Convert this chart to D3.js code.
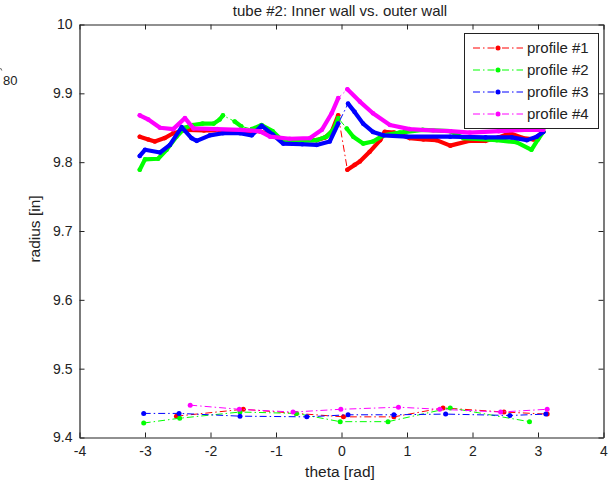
<!DOCTYPE html>
<html>
<head>
<meta charset="utf-8">
<script src="https://cdn.jsdelivr.net/npm/d3@7"></script>
<style>
  html, body { margin: 0; padding: 0; background: #fff; }
  svg { display: block; }
  text { font-family: "Liberation Sans", Arial, sans-serif; fill: #222; }
</style>
</head>
<body>
<svg id="chart" width="609" height="486"></svg>
<script>
// Profile names and colours
const profiles = ["profile #1", "profile #2", "profile #3", "profile #4"];
const colors = ["#ff0000", "#00ff00", "#0000ff", "#ff00ff"];

// Outer wall (densely sampled); null marks a stretch with no dense samples
const outerTheta1 = [-3.08,-2.95,-2.85,-2.7,-2.57,-2.36,-2.1,-1.8,-1.5,-1.25,-1.1,-0.89,-0.6,-0.38,-0.25,-0.15,-0.05,null,0.09,0.2,0.28,0.43,0.59,0.66,0.8,1.04,1.25,1.45,1.66,1.96,2.2,2.4,2.57,2.77,2.93,3.08];
const outerR1 = [9.837,9.833,9.830,9.835,9.842,9.847,9.846,9.846,9.845,9.845,9.840,9.833,9.832,9.832,9.836,9.844,9.868,null,9.789,9.796,9.801,9.815,9.832,9.844,9.843,9.835,9.833,9.832,9.824,9.831,9.831,9.836,9.842,9.835,9.833,9.844];

const outerTheta2 = [-3.08,-3.0,-2.8,-2.67,-2.52,-2.39,-2.27,-2.12,-1.95,-1.86,-1.81,null,-1.63,-1.53,null,-1.37,-1.22,-1.05,-0.89,-0.6,-0.38,-0.23,-0.12,-0.05,null,0.08,0.18,0.33,0.48,0.64,0.89,1.24,1.66,1.86,2.37,2.67,2.9,3.0,3.08];
const outerR2 = [9.789,9.804,9.805,9.818,9.837,9.850,9.854,9.856,9.856,9.862,9.868,null,9.859,9.852,null,9.848,9.854,9.845,9.830,9.831,9.832,9.837,9.848,9.864,null,9.849,9.837,9.827,9.830,9.839,9.843,9.847,9.845,9.835,9.832,9.829,9.818,9.833,9.844];

const outerTheta3 = [-3.08,-3.0,-2.77,-2.62,-2.44,-2.29,-2.21,-2.01,-1.81,-1.55,-1.37,-1.22,-1.05,-0.89,-0.6,-0.38,-0.18,-0.05,null,0.10,0.2,0.33,0.48,0.64,1.0,1.66,2.2,2.6,2.83,2.98,3.08];
const outerR3 = [9.809,9.818,9.814,9.825,9.851,9.835,9.831,9.839,9.842,9.842,9.839,9.853,9.840,9.827,9.826,9.825,9.830,9.856,null,9.885,9.873,9.856,9.844,9.839,9.837,9.837,9.836,9.836,9.832,9.837,9.844];

const outerTheta4 = [-3.08,-2.95,-2.77,-2.57,-2.39,-2.26,-1.9,-1.55,-1.25,-1.09,-0.79,-0.48,-0.30,-0.15,-0.05,null,0.09,0.28,0.48,0.74,1.04,1.4,1.66,1.96,2.4,2.8,3.08];
const outerR4 = [9.868,9.862,9.850,9.848,9.864,9.849,9.848,9.847,9.845,9.837,9.834,9.835,9.847,9.871,9.893,null,9.906,9.888,9.871,9.854,9.848,9.846,9.845,9.843,9.845,9.847,9.847];

// Inner wall (sparse samples)
const innerTheta1 = [-2.52,-1.50,-0.69,0.03,0.80,1.55,2.48,3.14];
const innerR1 = [9.431,9.441,9.435,9.430,9.430,9.443,9.437,9.434];

const innerTheta2 = [-3.02,-2.47,-1.55,-0.69,-0.02,0.71,1.66,2.87];
const innerR2 = [9.421,9.428,9.437,9.435,9.423,9.423,9.443,9.423];

const innerTheta3 = [-3.02,-2.48,-1.55,-0.53,0.10,0.80,1.59,2.57,3.12];
const innerR3 = [9.435,9.435,9.431,9.430,9.433,9.433,9.434,9.432,9.434];

const innerTheta4 = [-2.31,-1.56,-0.74,-0.01,0.87,1.50,2.43,3.14];
const innerR4 = [9.447,9.441,9.437,9.441,9.444,9.441,9.437,9.441];

// Axis ticks
const xTicks = [-4,-3,-2,-1,0,1,2,3,4];
const yTicks = [9.4,9.5,9.6,9.7,9.8,9.9,10];

const outerTheta = [outerTheta1, outerTheta2, outerTheta3, outerTheta4];
const outerR = [outerR1, outerR2, outerR3, outerR4];
const innerTheta = [innerTheta1, innerTheta2, innerTheta3, innerTheta4];
const innerR = [innerR1, innerR2, innerR3, innerR4];

const svg = d3.select("#chart");
const plotLeft = 79.5, plotRight = 603.5, plotTop = 24.5, plotBottom = 437.5;

const x = d3.scaleLinear().domain([-4, 4]).range([plotLeft, plotRight]);
const y = d3.scaleLinear().domain([9.4, 10]).range([plotBottom, plotTop]);

const dashDot = "7,3,1.5,3";

const zip = (ts, rs) => ts.map((t, i) => ({ t, r: rs[i] }));

const lineDefined = d3.line()
  .defined(d => d.t !== null && d.r !== null)
  .x(d => x(d.t)).y(d => y(d.r));
const lineAll = d3.line().x(d => x(d.t)).y(d => y(d.r));

const plot = svg.append("g");

profiles.forEach((name, i) => {
  const col = colors[i];
  const pts = zip(outerTheta[i], outerR[i]);
  const valid = pts.filter(d => d.t !== null && d.r !== null);

  // thin dash-dot connection through every sample
  plot.append("path")
    .attr("d", lineAll(valid))
    .attr("fill", "none").attr("stroke", col)
    .attr("stroke-width", 1).attr("stroke-dasharray", dashDot);

  // dense sample runs render as a solid band of markers
  plot.append("path")
    .attr("d", lineDefined(pts))
    .attr("fill", "none").attr("stroke", col)
    .attr("stroke-width", 4.2).attr("stroke-linejoin", "round").attr("stroke-linecap", "round");

  plot.append("g").selectAll("circle").data(valid).join("circle")
    .attr("cx", d => x(d.t)).attr("cy", d => y(d.r)).attr("r", 2.3)
    .attr("fill", col);

  // inner wall
  const inner = zip(innerTheta[i], innerR[i]);
  plot.append("path")
    .attr("d", lineAll(inner))
    .attr("fill", "none").attr("stroke", col)
    .attr("stroke-width", 1).attr("stroke-dasharray", dashDot);
  plot.append("g").selectAll("circle").data(inner).join("circle")
    .attr("cx", d => x(d.t)).attr("cy", d => y(d.r)).attr("r", 2.5)
    .attr("fill", col);
});

// Axes box with inward ticks on all sides
const axisColor = "#222";
const fmtY = d => (d === 10 ? "10" : d3.format(".1f")(d));

const gx = svg.append("g").attr("transform", `translate(0,${plotBottom})`)
  .call(d3.axisBottom(x).tickValues(xTicks).tickSizeInner(-5).tickSizeOuter(0).tickPadding(9).tickFormat(d3.format("d")));
const gxTop = svg.append("g").attr("transform", `translate(0,${plotTop})`)
  .call(d3.axisTop(x).tickValues(xTicks).tickSizeInner(-5).tickSizeOuter(0).tickFormat(""));
const gy = svg.append("g").attr("transform", `translate(${plotLeft},0)`)
  .call(d3.axisLeft(y).tickValues(yTicks).tickSizeInner(-5).tickSizeOuter(0).tickPadding(7).tickFormat(fmtY));
const gyRight = svg.append("g").attr("transform", `translate(${plotRight},0)`)
  .call(d3.axisRight(y).tickValues(yTicks).tickSizeInner(-5).tickSizeOuter(0).tickFormat(""));

[gx, gxTop, gy, gyRight].forEach(g => {
  g.select(".domain").attr("stroke", axisColor).attr("stroke-width", 1.2);
  g.selectAll(".tick line").attr("stroke", axisColor);
  g.selectAll(".tick text").attr("font-size", 14).attr("fill", axisColor)
    .attr("font-family", "Liberation Sans, Arial, sans-serif");
});
gx.selectAll(".tick text").text(d => d < 0 ? "-" + Math.abs(d) : d);

// Title and axis labels
svg.append("text").attr("x", 340).attr("y", 16).attr("text-anchor", "middle")
  .attr("font-size", 15).text("tube #2: Inner wall vs. outer wall");
svg.append("text").attr("x", 340).attr("y", 477).attr("text-anchor", "middle")
  .attr("font-size", 15.5).text("theta [rad]");
svg.append("text").attr("transform", "translate(40,229) rotate(-90)").attr("text-anchor", "middle")
  .attr("font-size", 15.5).text("radius [in]");

// stray annotation at the left margin
svg.append("text").attr("x", 3).attr("y", 85).attr("font-size", 13).text("80");
svg.append("line").attr("x1", 0.5).attr("y1", 68).attr("x2", 1.8).attr("y2", 70.5)
  .attr("stroke", "#555").attr("stroke-width", 1);

// Legend
const lg = svg.append("g");
lg.append("rect").attr("x", 464.5).attr("y", 33.5).attr("width", 134).attr("height", 95)
  .attr("fill", "#fff").attr("stroke", axisColor).attr("stroke-width", 1);
profiles.forEach((name, i) => {
  const yy = 48 + i * 22;
  lg.append("line").attr("x1", 473).attr("x2", 523).attr("y1", yy).attr("y2", yy)
    .attr("stroke", colors[i]).attr("stroke-width", 1).attr("stroke-dasharray", dashDot);
  lg.append("circle").attr("cx", 498).attr("cy", yy).attr("r", 2.5).attr("fill", colors[i]);
  lg.append("text").attr("x", 527).attr("y", yy + 5).attr("font-size", 15).text(name);
});
</script>
</body>
</html>
